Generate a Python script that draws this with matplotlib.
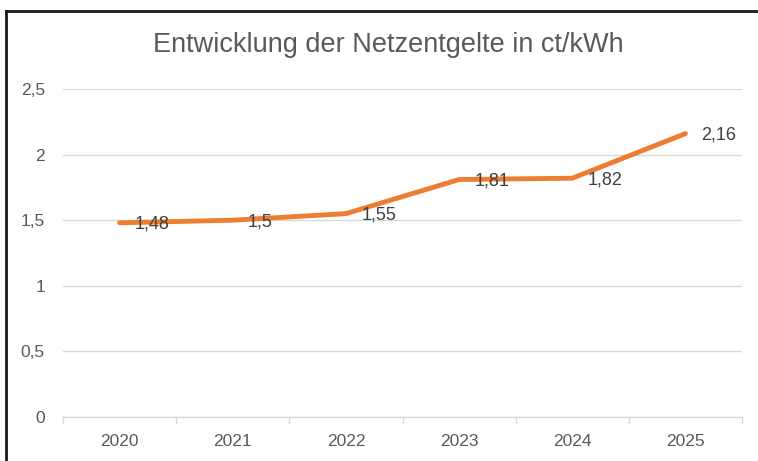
import numpy as np
import matplotlib.pyplot as plt
from matplotlib.lines import Line2D

plt.rcParams['font.family'] = ['Liberation Sans', 'DejaVu Sans']

years = ['2020', '2021', '2022', '2023', '2024', '2025']
netzentgelte = [1.48, 1.5, 1.55, 1.81, 1.82, 2.16]
y_ticks = [0, 0.5, 1, 1.5, 2, 2.5]
y_tick_labels = ['0', '0,5', '1', '1,5', '2', '2,5']

W, H = 758, 461
fig = plt.figure(figsize=(W / 100, H / 100), dpi=100)
ax = fig.add_axes([63 / W, (H - 417) / H, (742 - 63) / W, (417 - 89) / H])

x = np.arange(len(years))
ax.plot(x, netzentgelte, color='#ED7D31', linewidth=3.5, solid_capstyle='round',
        solid_joinstyle='round', zorder=3)

for xi, v in zip(x, netzentgelte):
    ax.annotate(str(v).replace('.', ','), (xi, v), xytext=(11, -1),
                textcoords='offset points', ha='left', va='center',
                fontsize=13, color='#404040', zorder=4)

ax.set_xlim(-0.5, len(years) - 0.5)
ax.set_ylim(0, 2.5)
ax.set_yticks(y_ticks)
ax.set_yticklabels(y_tick_labels)
ax.tick_params(axis='y', length=0, pad=13, labelsize=12.5, labelcolor='#595959')
ax.grid(axis='y', color='#D9D9D9', linewidth=1.0)
ax.set_axisbelow(True)

ax.set_xticks(np.arange(len(years) + 1) - 0.5)
ax.set_xticklabels([])
ax.set_xticks(x, minor=True)
ax.set_xticklabels(years, minor=True)
ax.tick_params(axis='x', which='major', length=5, color='#D9D9D9', width=1.0, direction='out')
ax.tick_params(axis='x', which='minor', length=0, pad=12, labelsize=12.5, labelcolor='#595959')

for s in ['top', 'right', 'left']:
    ax.spines[s].set_visible(False)
ax.spines['bottom'].set_color('#D9D9D9')
ax.spines['bottom'].set_linewidth(1.0)

fig.text(388 / W, 1 - 45 / H, 'Entwicklung der Netzentgelte in ct/kWh',
         ha='center', va='center', fontsize=19.5, color='#595959')

# frame of the pasted chart
fig.add_artist(Line2D([6 / W, 6 / W], [1 - 11 / H, 0], transform=fig.transFigure,
                      color='#1a1a1a', linewidth=2.0))
fig.add_artist(Line2D([6 / W, 1], [1 - 11 / H, 1 - 11 / H], transform=fig.transFigure,
                      color='#1a1a1a', linewidth=2.0))

fig.savefig('out.png', dpi=100)
